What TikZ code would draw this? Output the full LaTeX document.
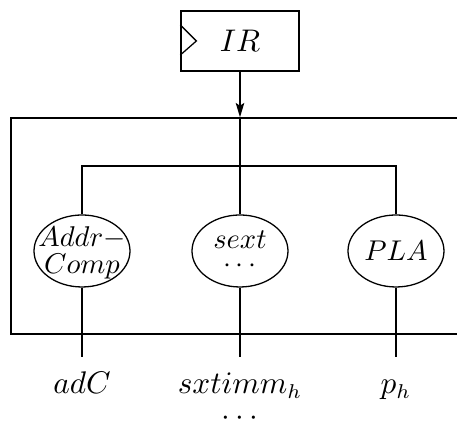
\documentclass[tikz,border=0pt]{standalone}
\usetikzlibrary{shapes.geometric,arrows.meta,calc}
% lower a stacked label inside its node without changing the node size
\newcommand{\lowered}[2]{\raisebox{-#1}[\height][\depth]{\begin{tabular}{@{}c@{}}#2\end{tabular}}}
\begin{document}
\begin{tikzpicture}[x=0.35pt,y=-0.35pt,
    wire/.style={draw=black,line width=0.45pt},
    regbox/.style={draw,line width=0.45pt,rectangle,minimum width=118*0.35pt,minimum height=60*0.35pt,inner sep=0pt},
    unit/.style={draw,line width=0.45pt,ellipse,minimum width=96*0.35pt,minimum height=72*0.35pt,
                 inner xsep=-12pt,inner ysep=-6pt,
                 font=\fontsize{9.6}{8.6}\selectfont},
    sig/.style={inner sep=0pt,anchor=base,align=center,font=\fontsize{10.5}{11.2}\selectfont}]
  \useasboundingbox (0,0) rectangle (457,428);
  \clip (0,0) rectangle (457,428);

  % instruction register with clock marker
  \node[regbox] (ir) at (240,41) {\fontsize{10.5}{12}\selectfont$IR$};
  \draw[wire] ($(ir.west)+(0,-16)$) -- ($(ir.west)+(16,0)$) -- ($(ir.west)+(0,14)$);

  % decode frame, open to the right
  \node[draw,line width=0.55pt,rectangle,inner sep=0pt,minimum width=460*0.35pt,minimum height=216*0.35pt] (frame) at (241,226) {};

  % decode units
  \node[unit] (addr) at (82,251) {\lowered{1.1pt}{$Addr-$\\$Comp$}};
  \node[unit] (sext) at (240,251) {\lowered{1.6pt}{$sext$\\$\cdots$}};
  \node[unit] (pla)  at (396,251) {$PLA$};

  \coordinate (split) at (240,166);

  % IR into the frame, then fan out to the units
  \draw[wire,-{Stealth[length=5pt,width=3pt,inset=1pt]}] (ir.south) -- (ir.south |- frame.north);
  \draw[wire] (ir.south |- frame.north) -- (sext.north);
  \draw[wire] (addr.north) |- (pla.north |- split) -- (pla.north);

  % outputs
  \coordinate (oa) at (82,357);
  \coordinate (os) at (240,357);
  \coordinate (op) at (396,357);
  \draw[wire] (addr.south) -- (oa);
  \draw[wire] (sext.south) -- (os);
  \draw[wire] (pla.south) -- (op);

  \node[sig] (la) at (82,394) {$adC$};
  \node[sig] (ls) at (240,426) {$sxtimm_h$\\$\cdots$};
  \node[sig] (lp) at (396,394) {$p_h$};
\end{tikzpicture}
\end{document}
